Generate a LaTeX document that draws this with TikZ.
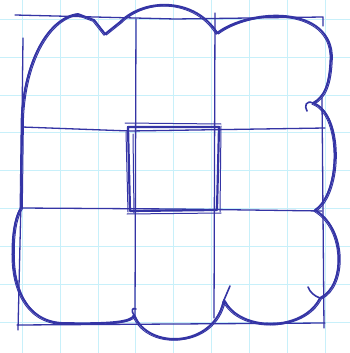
\documentclass[tikz,border=0pt]{standalone}
\definecolor{inkblue}{RGB}{52,52,165}
\definecolor{gridcyan}{RGB}{200,240,250}
\tikzset{
    inkline/.style={
        draw=inkblue, line width=1.6pt, line cap=round, line join=round
    },
    gridline/.style={
        draw=gridcyan, line width=0.6pt
    }
}
\begin{document}
\begin{tikzpicture}[x=1pt, y=-1pt]

	\def\xorig{22}
	\def\yorig{19}
	\def\cell{37.9}

		\fill[ white ] (0, 0) rectangle (350, 353);
		\useasboundingbox (0, 0) rectangle (350, 353);

		% squared paper
		\foreach \i in {0,...,8} {
			\draw[ gridline ] (\xorig+\i*\cell, 0) -- (\xorig+\i*\cell, 353);
			\draw[ gridline ] (0, \yorig+\i*\cell) -- (350, \yorig+\i*\cell);
		}

		% ruled frame, 3 x 3
		\draw[ inkline, line width=1.3pt ] (15, 15) -- (175, 19) -- (323, 17) -- (323, 26);
		\draw[ inkline, line width=1.3pt ] (23, 38) -- (21, 200) -- (18, 330);
		\draw[ inkline, line width=1.3pt ] (322, 98) -- (324, 328);
		\draw[ inkline, line width=1.3pt ] (17, 325) -- (175, 324) -- (325, 323);
		\draw[ inkline, line width=1.3pt ] (136, 19) -- (135, 316);
		\draw[ inkline, line width=1.3pt ] (215, 13) -- (214, 318);
		\draw[ inkline, line width=1.3pt ] (22, 127) -- (130, 131) -- (325, 128);
		\draw[ inkline, line width=1.3pt ] (20, 208) -- (175, 209) -- (322, 211);

		% middle square, gone over several times
		\draw[ inkline, line width=2.2pt ] (128, 127) -- (219, 127) -- (217, 210) -- (130, 211) -- cycle;
		\draw[ inkline, line width=1pt ] (125, 123) -- (221, 124);
		\draw[ inkline, line width=1pt ] (126, 132) -- (128, 212);
		\draw[ inkline, line width=1pt ] (133, 134) -- (134, 213);
		\draw[ inkline, line width=1pt ] (221, 126) -- (220, 212);
		\draw[ inkline, line width=1pt ] (127, 214) -- (221, 213);

		% cloud outline
		\foreach \dx/\dy/\w in {0/0/1.9, 1.3/1/1, -1/1.3/0.9} {
			\begin{scope}[ shift={(\dx, \dy)} ]
				\draw[ inkline, line width=\w pt ] (22, 130)
					.. controls (21, 70) and (45, 18) .. (78, 14)
					-- (94, 20) -- (105, 34) -- (120, 22)
					.. controls (145, -3) and (196, -2) .. (217, 33)
					.. controls (250, 8) and (333, 5) .. (331, 58)
					.. controls (330, 85) and (324, 97) .. (313, 103)
					.. controls (342, 112) and (342, 192) .. (315, 210)
					.. controls (346, 228) and (346, 286) .. (320, 298)
					.. controls (303, 332) and (240, 332) .. (224, 300)
					.. controls (214, 348) and (148, 350) .. (134, 315)
					.. controls (132, 322) and (110, 324) .. (62, 323)
					.. controls (25, 321) and (12, 285) .. (13, 250)
					.. controls (13, 225) and (18, 212) .. (21, 208)
					-- (22, 130);
			\end{scope}
		}

		% little hooks where the pen turned
		\draw[ inkline ] (313, 103) .. controls (306, 100) and (304, 106) .. (307, 111);
		\draw[ inkline ] (320, 298) .. controls (314, 296) and (310, 292) .. (308, 287);
		\draw[ inkline ] (224, 300) -- (230, 286);
		\draw[ inkline ] (134, 315) .. controls (131, 311) and (132, 307) .. (136, 309);

\end{tikzpicture}
\end{document}
